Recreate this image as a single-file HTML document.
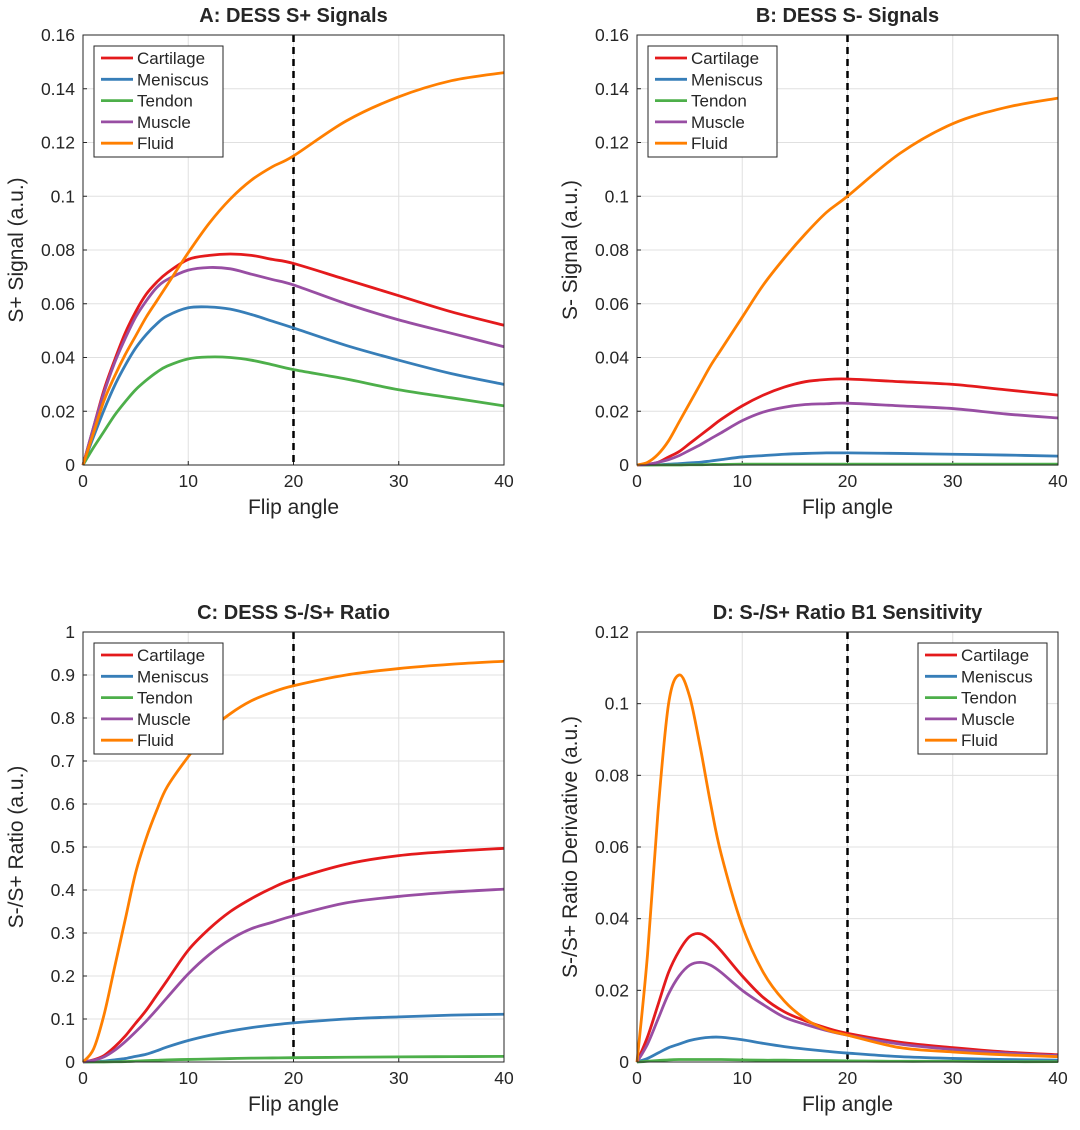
<!DOCTYPE html>
<html><head><meta charset="utf-8"><style>
body{margin:0;background:#fff;}
svg text{font-family:"Liberation Sans",sans-serif;fill:#262626;}
</style></head><body>
<svg id="s" width="1080" height="1125" xmlns="http://www.w3.org/2000/svg"></svg>
<script>
const X=[0,1,2,3,4,5,6,7,8,10,12,14,16,18,20,25,30,35,40];
const names=["Cartilage","Meniscus","Tendon","Muscle","Fluid"];
const colors=["#e41a1c","#377eb8","#4daf4a","#984ea3","#ff7f00"];
// Panel A
const aCart=[0,0.014,0.028,0.039,0.049,0.057,0.0635,0.068,0.0715,0.0765,0.078,0.0785,0.078,0.0765,0.075,0.069,0.063,0.057,0.052];
const aMen=[0,0.0105,0.0205,0.0295,0.037,0.0435,0.0485,0.0525,0.0555,0.0585,0.0588,0.058,0.056,0.0535,0.051,0.0445,0.039,0.034,0.030];
const aTen=[0,0.0065,0.0125,0.0185,0.0235,0.028,0.0315,0.0345,0.0368,0.0395,0.0402,0.040,0.039,0.0373,0.0355,0.032,0.028,0.025,0.022];
const aMus=[0,0.014,0.027,0.038,0.047,0.055,0.061,0.066,0.069,0.0725,0.0735,0.073,0.071,0.069,0.067,0.060,0.054,0.049,0.044];
const aFlu=[0,0.012,0.024,0.033,0.041,0.048,0.055,0.061,0.067,0.079,0.090,0.099,0.106,0.111,0.115,0.128,0.137,0.143,0.146];
// Panel B
const bCart=[0,0.0003,0.001,0.003,0.005,0.008,0.011,0.014,0.017,0.022,0.026,0.029,0.031,0.0318,0.032,0.031,0.030,0.028,0.026];
const bMen=[0,0,0.0001,0.0003,0.0005,0.0008,0.001,0.0015,0.002,0.003,0.0035,0.004,0.0043,0.0045,0.0045,0.0043,0.004,0.0037,0.0033];
const bTen=[0,0,0,0,0,0.0001,0.0001,0.0002,0.0002,0.0003,0.0003,0.0003,0.0003,0.0003,0.0003,0.0003,0.0003,0.0003,0.0003];
const bMus=[0,0.0002,0.001,0.002,0.0035,0.0055,0.0075,0.0098,0.012,0.0165,0.0197,0.0215,0.0225,0.0228,0.023,0.022,0.021,0.019,0.0175];
const bFlu=[0,0.001,0.004,0.009,0.016,0.023,0.030,0.037,0.043,0.055,0.067,0.077,0.086,0.094,0.100,0.116,0.127,0.133,0.1365];
// Panel C
const cCart=[0,0.005,0.015,0.035,0.06,0.09,0.12,0.155,0.19,0.26,0.31,0.35,0.38,0.405,0.425,0.46,0.48,0.49,0.497];
const cMen=[0,0.0005,0.002,0.005,0.008,0.013,0.018,0.026,0.035,0.05,0.062,0.072,0.08,0.086,0.091,0.1,0.105,0.109,0.111];
const cTen=[0,0,0.0002,0.0005,0.001,0.002,0.003,0.004,0.005,0.006,0.007,0.008,0.009,0.0095,0.01,0.011,0.012,0.0125,0.013];
const cMus=[0,0.004,0.012,0.027,0.047,0.07,0.095,0.122,0.15,0.205,0.25,0.285,0.31,0.325,0.34,0.37,0.385,0.395,0.402];
const cFlu=[0,0.03,0.11,0.22,0.33,0.44,0.52,0.585,0.64,0.71,0.77,0.81,0.84,0.86,0.875,0.90,0.915,0.925,0.932];
// Panel D
const dCart=[0,0.007,0.016,0.025,0.031,0.035,0.0358,0.034,0.031,0.024,0.018,0.014,0.0115,0.0095,0.008,0.0055,0.004,0.0028,0.002];
const dMen=[0,0.001,0.0025,0.004,0.005,0.006,0.0066,0.0069,0.0069,0.0062,0.0052,0.0043,0.0036,0.003,0.0025,0.0015,0.001,0.0007,0.0005];
const dTen=[0,0.0002,0.0004,0.0006,0.0007,0.0007,0.0007,0.0007,0.0007,0.0006,0.0005,0.0005,0.0004,0.0004,0.0003,0.0002,0.0002,0.0001,0.0001];
const dMus=[0,0.005,0.012,0.019,0.024,0.027,0.0278,0.027,0.025,0.02,0.016,0.0125,0.0105,0.0088,0.0075,0.005,0.0035,0.0025,0.0018];
const dFlu=[0,0.03,0.07,0.1,0.108,0.102,0.088,0.072,0.058,0.038,0.025,0.017,0.012,0.009,0.0075,0.004,0.0028,0.002,0.0015];
const xTicks=[0,10,20,30,40];
const yTicksA=[0,0.02,0.04,0.06,0.08,0.1,0.12,0.14,0.16];
const yTicksC=[0,0.1,0.2,0.3,0.4,0.5,0.6,0.7,0.8,0.9,1];
const yTicksD=[0,0.02,0.04,0.06,0.08,0.1,0.12];

const svg=document.getElementById('s');
const NS="http://www.w3.org/2000/svg";
function mk(t,a,p){const e=document.createElementNS(NS,t);for(const k in a)e.setAttribute(k,a[k]);(p||svg).appendChild(e);return e;}
function path(pts){let d="M"+pts[0][0]+","+pts[0][1];
 for(let i=0;i<pts.length-1;i++){const p0=pts[Math.max(0,i-1)],p1=pts[i],p2=pts[i+1],p3=pts[Math.min(pts.length-1,i+2)];
 d+=" C"+(p1[0]+(p2[0]-p0[0])/6)+","+(p1[1]+(p2[1]-p0[1])/6)+" "+(p2[0]-(p3[0]-p1[0])/6)+","+(p2[1]-(p3[1]-p1[1])/6)+" "+p2[0]+","+p2[1];}
 return d;}
function panel(id,L,R,T,B,ymax,yTicks,series,title,ylab,legX){
 const g=mk('g',{});
 
 
 const sx=v=>L+v/40*(R-L), sy=v=>B-v/ymax*(B-T);
 mk('rect',{x:L,y:T,width:R-L,height:B-T,fill:'#fff'},g);
 xTicks.forEach(t=>{mk('line',{x1:sx(t),x2:sx(t),y1:T,y2:B,stroke:'#e0e0e0','stroke-width':1},g);
  mk('line',{x1:sx(t),x2:sx(t),y1:B,y2:B-4,stroke:'#262626'},g);
  const tx=mk('text',{x:sx(t),y:B+22,'text-anchor':'middle','font-size':17.5},g);tx.textContent=t;
  
  });
 yTicks.forEach(t=>{mk('line',{x1:L,x2:R,y1:sy(t),y2:sy(t),stroke:'#e0e0e0','stroke-width':1},g);
  mk('line',{x1:L,x2:L+4,y1:sy(t),y2:sy(t),stroke:'#262626'},g);
  const ty=mk('text',{x:L-8,y:sy(t)+6,'text-anchor':'end','font-size':17.5},g);ty.textContent=String(t);
  
  });
 mk('line',{x1:sx(20),x2:sx(20),y1:T,y2:B,stroke:'#000','stroke-width':2.5,'stroke-dasharray':'7,5'},g);
 series.forEach((s,i)=>{const p=mk('path',{d:path(X.map((x,j)=>[sx(x),sy(s[j])])),fill:'none',stroke:colors[i],'stroke-width':2.8},g);
  
  });
 mk('rect',{x:L,y:T,width:R-L,height:B-T,fill:'none',stroke:'#262626','stroke-width':1},g);
 const tt=mk('text',{x:(L+R)/2,y:T-13,'text-anchor':'middle','font-size':20,'font-weight':'bold'},g);tt.textContent=title;
 
 
 const xl=mk('text',{x:(L+R)/2,y:B+49,'text-anchor':'middle','font-size':21},g);xl.textContent='Flip angle';
 
 
 const yl=mk('text',{x:0,y:0,'text-anchor':'middle','font-size':21,transform:`translate(${L-60},${(T+B)/2}) rotate(-90)`},g);yl.textContent=ylab;
 
 
 const lg=mk('g',{},g);
 
 
 mk('rect',{x:legX,y:T+11,width:129,height:111,fill:'#fff',stroke:'#262626','stroke-width':1},lg);
 names.forEach((n,i)=>{const y=T+23+i*21.3;
  mk('line',{x1:legX+7,x2:legX+39,y1:y,y2:y,stroke:colors[i],'stroke-width':2.8},lg);
  const t=mk('text',{x:legX+43,y:y+6,'font-size':17},lg);t.textContent=n;
  
  });
}
panel('panel-a',83,504,35,465,0.16,yTicksA,[aCart,aMen,aTen,aMus,aFlu],'A: DESS S+ Signals','S+ Signal (a.u.)',94);
panel('panel-b',637,1058,35,465,0.16,yTicksA,[bCart,bMen,bTen,bMus,bFlu],'B: DESS S- Signals','S- Signal (a.u.)',648);
panel('panel-c',83,504,632,1062,1,yTicksC,[cCart,cMen,cTen,cMus,cFlu],'C: DESS S-/S+ Ratio','S-/S+ Ratio (a.u.)',94);
panel('panel-d',637,1058,632,1062,0.12,yTicksD,[dCart,dMen,dTen,dMus,dFlu],'D: S-/S+ Ratio B1 Sensitivity','S-/S+ Ratio Derivative (a.u.)',918);
</script>
</body></html>
